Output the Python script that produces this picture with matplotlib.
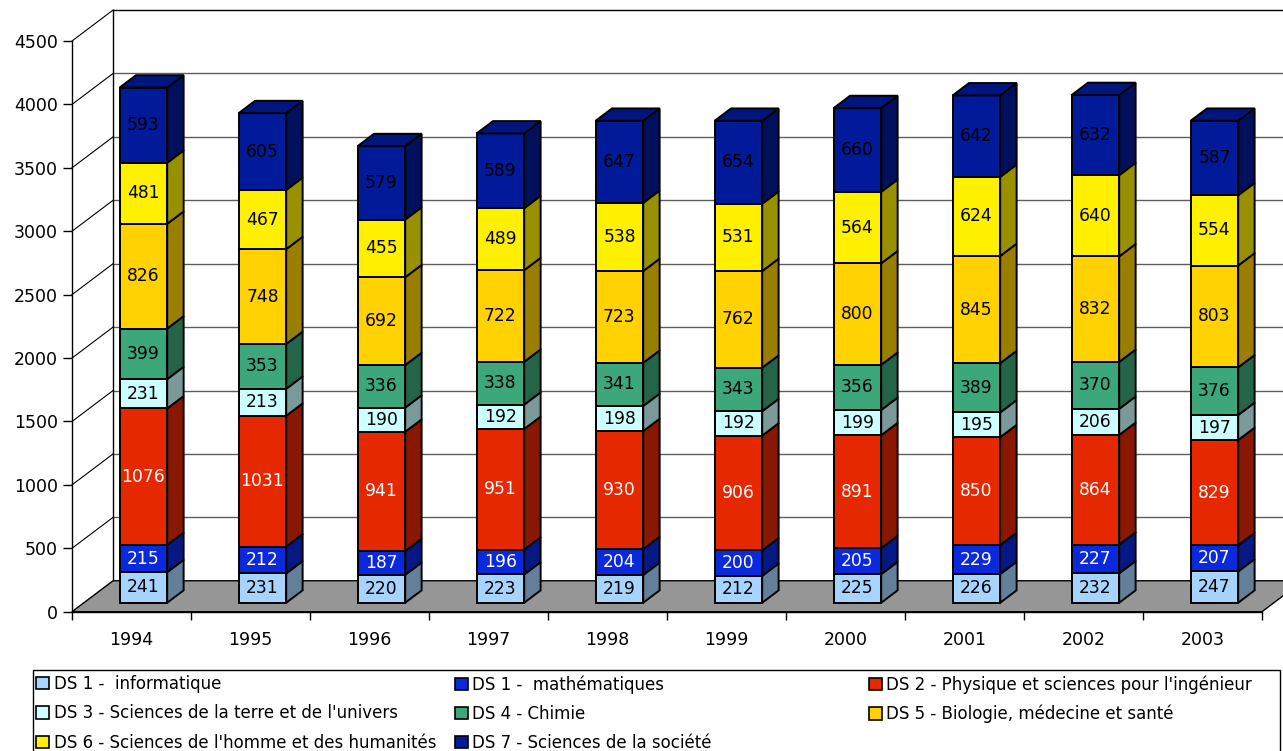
#!/usr/bin/env python3
"""Histogramme empile facon Excel 3D : effectifs par discipline (DS), 1994-2003."""

import matplotlib.pyplot as plt
from matplotlib.colors import to_rgb
from matplotlib.patches import Polygon, Patch, Rectangle

W_PX, H_PX = 1283, 751

years = ["1994", "1995", "1996", "1997", "1998", "1999", "2000", "2001", "2002", "2003"]

ds1_info = [241, 231, 220, 223, 219, 212, 225, 226, 232, 247]
ds1_math = [215, 212, 187, 196, 204, 200, 205, 229, 227, 207]
ds2_phys = [1076, 1031, 941, 951, 930, 906, 891, 850, 864, 829]
ds3_terre = [231, 213, 190, 192, 198, 192, 199, 195, 206, 197]
ds4_chimie = [399, 353, 336, 338, 341, 343, 356, 389, 370, 376]
ds5_bio = [826, 748, 692, 722, 723, 762, 800, 845, 832, 803]
ds6_homme = [481, 467, 455, 489, 538, 531, 564, 624, 640, 554]
ds7_societe = [593, 605, 579, 589, 647, 654, 660, 642, 632, 587]

series_labels = [
    "DS 1 -  informatique",
    "DS 1 -  mathématiques",
    "DS 2 - Physique et sciences pour l'ingénieur",
    "DS 3 - Sciences de la terre et de l'univers",
    "DS 4 - Chimie",
    "DS 5 - Biologie, médecine et santé",
    "DS 6 - Sciences de l'homme et des humanités",
    "DS 7 - Sciences de la société",
]
series_values = [ds1_info, ds1_math, ds2_phys, ds3_terre,
                 ds4_chimie, ds5_bio, ds6_homme, ds7_societe]
series_colors = ["#a6d4ff", "#0a28dc", "#e62800", "#ccffff",
                 "#3ca77a", "#ffd200", "#fff000", "#001a99"]
label_colors = ["black", "white", "white", "black",
                "black", "black", "black", "black"]

y_ticks = list(range(0, 4501, 500))
Y_MAX = 4500

# geometrie "3D" (en unites de donnees)
DEPTH_X = 0.345      # decalage horizontal de la profondeur totale
DEPTH_Y = 244.0      # decalage vertical de la profondeur totale
BAR_FRONT = 0.29     # position de la face avant dans la profondeur
BAR_DEPTH = 0.40     # profondeur des barres
BAR_WIDTH = 0.40
EDGE_LW = 1.4


def shade(color, k):
    r, g, b = to_rgb(color)
    return (r * k, g * k, b * k)


def px_x(px):
    return px / W_PX


def px_y(py):
    return 1 - py / H_PX


plt.rcParams["font.family"] = ["DejaVu Sans"]

fig = plt.figure(figsize=(W_PX / 100, H_PX / 100), dpi=100, facecolor="white")
ax_left, ax_right, ax_top, ax_bottom = 72, 1262, 41, 611.7
ax = fig.add_axes([px_x(ax_left), px_y(ax_bottom),
                   px_x(ax_right) - px_x(ax_left), px_y(ax_top) - px_y(ax_bottom)])
ax.set_xlim(0, len(years))
ax.set_ylim(0, Y_MAX)
ax.patch.set_alpha(0)
for side in ("top", "right"):
    ax.spines[side].set_visible(False)
ax.spines["left"].set_linewidth(1.0)
ax.spines["bottom"].set_linewidth(1.0)

n = len(years)

# paroi du fond + paroi gauche
for v in y_ticks[1:]:
    ax.plot([DEPTH_X, n + DEPTH_X], [v + DEPTH_Y, v + DEPTH_Y],
            color="black" if v == Y_MAX else "#5e5e5e", lw=1.0, clip_on=False, zorder=1)
    ax.plot([0, DEPTH_X], [v, v + DEPTH_Y], color="black", lw=0.8, clip_on=False, zorder=1)
ax.plot([DEPTH_X, DEPTH_X], [DEPTH_Y, Y_MAX + DEPTH_Y], color="black", lw=1.0,
        clip_on=False, zorder=1)

# plancher gris
floor = Polygon([(0, 0), (n, 0), (n + DEPTH_X, DEPTH_Y), (DEPTH_X, DEPTH_Y)],
                closed=True, facecolor="#969696", edgecolor="black", lw=1.0,
                clip_on=False, zorder=2)
ax.add_patch(floor)

# barres empilees
fx = BAR_FRONT * DEPTH_X
fy = BAR_FRONT * DEPTH_Y
sx = BAR_DEPTH * DEPTH_X
sy = BAR_DEPTH * DEPTH_Y
bottoms = [0] * n
for j, (vals, col) in enumerate(zip(series_values, series_colors)):
    xs = [i + 0.5 + fx for i in range(n)]
    ax.bar(xs, vals, width=BAR_WIDTH, bottom=[b + fy for b in bottoms],
           color=col, edgecolor="black", linewidth=EDGE_LW, zorder=4, clip_on=False)
    for i, v in enumerate(vals):
        xr = xs[i] + BAR_WIDTH / 2
        b0 = bottoms[i] + fy
        b1 = b0 + v
        ax.add_patch(Polygon([(xr, b0), (xr, b1), (xr + sx, b1 + sy), (xr + sx, b0 + sy)],
                             closed=True, facecolor=shade(col, 0.6), edgecolor="black",
                             lw=EDGE_LW, zorder=4, clip_on=False))
        if j == len(series_values) - 1:
            xl = xs[i] - BAR_WIDTH / 2
            ax.add_patch(Polygon([(xl, b1), (xr, b1), (xr + sx, b1 + sy), (xl + sx, b1 + sy)],
                                 closed=True, facecolor=shade(col, 0.82), edgecolor="black",
                                 lw=EDGE_LW, zorder=4, clip_on=False))
        ax.text(xs[i], b0 + v / 2, str(v), ha="center", va="center",
                fontsize=12.3, color=label_colors[j], zorder=5)
    bottoms = [b + v for b, v in zip(bottoms, vals)]

# axes
ax.set_yticks(y_ticks)
ax.set_yticklabels([str(t) for t in y_ticks])
ax.tick_params(axis="y", direction="out", length=6.5, width=1.0, pad=3.5, labelsize=12.5)
ax.set_xticks(range(n + 1))
ax.set_xticklabels([])
ax.set_xticks([i + 0.5 for i in range(n)], minor=True)
ax.set_xticklabels(years, minor=True)
ax.tick_params(axis="x", which="major", direction="out", length=6, width=1.0)
ax.tick_params(axis="x", which="minor", length=0, pad=14, labelsize=12.5)

# legende : cadre + trois colonnes
fig.patches.append(Rectangle((px_x(33), px_y(760)), px_x(1280) - px_x(33), px_y(670) - px_y(760),
                             transform=fig.transFigure, fill=False, edgecolor="black", lw=1.0))
handles = [Patch(facecolor=c, edgecolor="black", linewidth=1.2, label=l)
           for c, l in zip(series_colors, series_labels)]
columns = [[0, 3, 6], [1, 4, 7], [2, 5]]
col_x = [36, 455, 869]
for idx, x0 in zip(columns, col_x):
    leg = fig.legend(handles=[handles[k] for k in idx], loc="upper left",
                     bbox_to_anchor=(px_x(x0), px_y(675)), frameon=False,
                     fontsize=12, handlelength=0.75, handleheight=0.75, handletextpad=0.3,
                     labelspacing=0.68, borderpad=0, borderaxespad=0)

fig.savefig("out.png", dpi=100, facecolor="white")
